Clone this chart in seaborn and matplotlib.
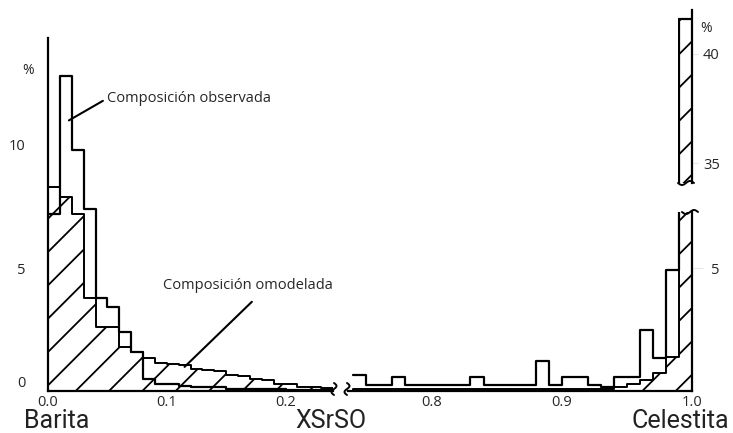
import numpy as np
import pandas as pd
import matplotlib
matplotlib.use('Agg')
import matplotlib.pyplot as plt
from matplotlib.lines import Line2D
import seaborn as sns

# XSrSO4 bins, 0.01 wide, for both sides of the broken axis
left_edges = np.linspace(0.0, 0.24, 25)
right_edges = np.linspace(0.74, 1.0, 27)

# modeled composition (%), drawn hatched
modelled_left = [8.3, 7.9, 7.2, 3.8, 2.6, 2.6, 1.8, 1.6, 1.35, 1.15, 1.1, 1.05,
                 0.9, 0.85, 0.8, 0.65, 0.6, 0.5, 0.45, 0.3, 0.3, 0.15, 0.15, 0.12]
modelled_right = [0.1, 0.1, 0.1, 0.1, 0.1, 0.1, 0.1, 0.1, 0.1, 0.1, 0.1, 0.1, 0.1,
                  0.1, 0.1, 0.1, 0.1, 0.1, 0.1, 0.1, 0.15, 0.3, 0.45, 0.75, 1.4, 41.6]

# observed composition (%), drawn as outline
observed_left = [7.2, 12.8, 9.8, 7.4, 3.8, 3.4, 2.4, 1.6, 0.5, 0.3, 0.3, 0.2,
                 0.15, 0.15, 0.15, 0.1, 0.1, 0.1, 0.1, 0.1, 0.05, 0.05, 0.05, 0.05]
observed_right = [0.65, 0.25, 0.25, 0.55, 0.25, 0.25, 0.25, 0.25, 0.25, 0.55, 0.25, 0.25, 0.25,
                  0.25, 1.2, 0.25, 0.55, 0.55, 0.25, 0.15, 0.55, 0.55, 2.5, 1.35, 4.9, 41.6]

left_ticks = [0.0, 0.1, 0.2]
right_ticks = [0.8, 0.9, 1.0]

sns.set_style('white')
plt.rcParams['font.family'] = ['Open Sans', 'DejaVu Sans']
plt.rcParams['hatch.linewidth'] = 1.3
plt.rcParams['hatch.color'] = 'black'

W, H = 733, 433
PX = 24.6  # pixels per % on the lower axes
fig = plt.figure(figsize=(W / 100, H / 100), dpi=100)


def box(x0, y0, x1, y1):
    # pixel box (top-left origin) -> figure fraction
    return [x0 / W, (H - y1) / H, (x1 - x0) / W, (y1 - y0) / H]


ax1 = fig.add_axes(box(48, 38, 333, 391))
ax2 = fig.add_axes(box(348, 212, 692, 391))
ax3 = fig.add_axes(box(677.7, 10, 692, 183))


def draw(ax, edges, modelled, observed):
    df = pd.DataFrame({'x': (edges[:-1] + edges[1:]) / 2,
                       'modelled': modelled, 'observed': observed})
    bins = list(edges)
    sns.histplot(data=df, x='x', weights='modelled', bins=bins, element='step', fill=True,
                 facecolor='white', edgecolor='black', hatch='/', linewidth=1.4, ax=ax)
    sns.histplot(data=df, x='x', weights='observed', bins=bins, element='step', fill=False,
                 color='black', linewidth=1.6, ax=ax)
    ax.set_xlabel('')
    ax.set_ylabel('')
    for s in ax.spines.values():
        s.set_visible(False)
        s.set_linewidth(1.6)
        s.set_color('black')


draw(ax1, left_edges, modelled_left, observed_left)
draw(ax2, right_edges, modelled_right, observed_right)
draw(ax3, right_edges, modelled_right, observed_right)

ax1.set_xlim(0, 0.24)
ax1.set_ylim(0, 353 / PX)
ax1.spines['left'].set_visible(True)
ax1.spines['bottom'].set_visible(True)
ax1.set_xticks(left_ticks, [f'{t:.1f}' for t in left_ticks])
ax1.set_yticks([0, 5, 10], ['0', '5', '10'])
ax1.get_yticklabels()[0].set_va('bottom')
ax1.tick_params(axis='x', length=0, pad=3, labelsize=10.5)
ax1.tick_params(axis='y', length=12, color='#e6e6e6', pad=4, labelsize=10.5)

ax2.set_xlim(0.736, 1.0)
ax2.set_ylim(0, 179 / PX)
ax2.spines['right'].set_visible(True)
ax2.spines['bottom'].set_visible(True)
ax2.set_xticks(right_ticks, [f'{t:.1f}' for t in right_ticks])
ax2.yaxis.tick_right()
ax2.set_yticks([5], ['5'])
ax2.tick_params(axis='x', length=0, pad=3, labelsize=10.5)
ax2.tick_params(axis='y', length=8, color='#e6e6e6', pad=6, labelsize=10.5)

ax3.set_xlim(0.989, 1.0)
ax3.set_ylim(34.1, 42.0)
ax3.spines['right'].set_visible(True)
ax3.set_xticks([])
ax3.yaxis.tick_right()
ax3.set_yticks([35, 40], ['35', '40'])
ax3.tick_params(axis='y', length=4, color='#e6e6e6', pad=4, labelsize=10.5)
for ax in (ax1, ax2, ax3):
    ax.patch.set_alpha(0)

# percent signs
fig.text(22 / W, (H - 70) / H, '%', fontsize=10, va='center')
fig.text(700 / W, (H - 29) / H, '%', fontsize=10, va='center')

# annotations
ax1.annotate('Composición observada', xy=(0.0176, 11.0), xytext=(0.050, 11.9),
             fontsize=10.5, va='center', ha='left', annotation_clip=False,
             arrowprops=dict(arrowstyle='-', lw=1.5, color='black',
                             relpos=(0, 0.5), shrinkA=1, shrinkB=0))
ax1.annotate('Composición omodelada', xy=(0.115, 0.98), xytext=(0.0966, 4.3),
             fontsize=10.5, va='center', ha='left', annotation_clip=False,
             arrowprops=dict(arrowstyle='-', lw=1.5, color='black',
                             relpos=(0.58, 0), shrinkA=6, shrinkB=0))

# end-member and axis names
big = dict(fontsize=18, va='baseline', ha='center', color='#222222',
           family=['Roboto', 'Open Sans', 'DejaVu Sans'])
fig.text(57 / W, 5 / H, 'Barita', **big)
fig.text(680 / W, 5 / H, 'Celestita', **big)
fig.text(331 / W, 5 / H, 'XSrSO', **big)


# axis break marks
def squiggle(x0, y0, vertical=True, size=12):
    t = np.linspace(0, 1, 40)
    if vertical:
        xs = x0 + 2.5 * np.sin(2 * np.pi * t)
        ys = y0 - size / 2 + size * t
    else:
        xs = x0 - size / 2 + size * t
        ys = y0 + 2.0 * np.sin(2 * np.pi * t)
    fig.add_artist(Line2D(xs / W, (H - ys) / H, color='black', lw=1.4))


squiggle(334, 389)
squiggle(347, 389)
squiggle(690, 212, vertical=False, size=16)
squiggle(686, 183, vertical=False, size=16)

fig.savefig('out.png', dpi=100)
